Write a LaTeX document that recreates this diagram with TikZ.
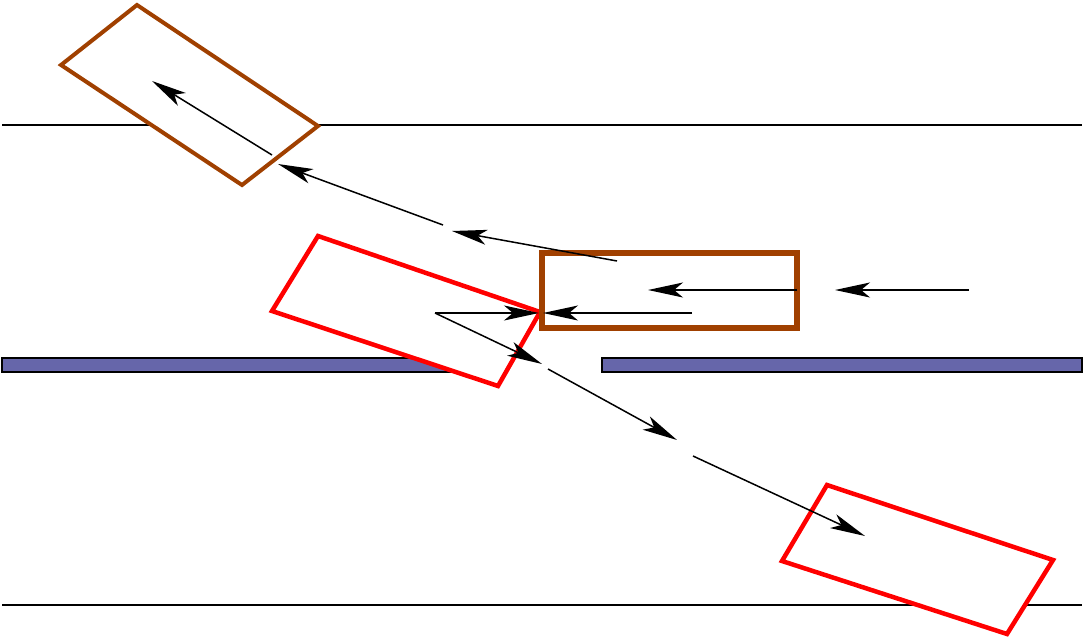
\documentclass[tikz,border=0pt]{standalone}
\usetikzlibrary{arrows.meta}
\definecolor{carbrown}{RGB}{160,64,0}
\definecolor{barrier}{RGB}{102,102,170}
\tikzset{
  road/.style={line width=1.5pt, black},
  barrierbox/.style={draw=black, line width=1.4pt, fill=barrier},
  redcar/.style={draw=red, line width=4.5pt, fill=white, line join=miter},
  browncar/.style={draw=carbrown, line width=4pt, fill=white, line join=miter},
  browncarthick/.style={draw=carbrown, line width=6pt},
  vec/.style={line width=1.5pt, -{Stealth[length=35pt,width=15pt,inset=9pt]}}
}
\begin{document}
\begin{tikzpicture}[x=1pt,y=-1pt]
\useasboundingbox (0,0) rectangle (1085,640);
% roads
\draw[road] (2,125) -- (1082,125);
\draw[road] (2,605) -- (1082,605);
% barriers
\draw[barrierbox] (2,358) rectangle (490,372);
\draw[barrierbox] (602,358) rectangle (1082,372);
% cars
\draw[redcar] (318,236) -- (540,312) -- (498,386) -- (272,311) -- cycle;
\draw[redcar] (827,485) -- (1053,560) -- (1007,634) -- (782,561) -- cycle;
\draw[browncar] (137,5) -- (318,126) -- (242,185) -- (61,65) -- cycle;
\draw[browncarthick] (542,253) rectangle (797,328);
% coordinates
\coordinate (a1s) at (272,155); \coordinate (a1e) at (152,81);
\coordinate (a2s) at (443,225); \coordinate (a2e) at (278,164);
\coordinate (a3s) at (617,261); \coordinate (a3e) at (452,231);
\coordinate (a4s) at (797,290); \coordinate (a4e) at (648,290);
\coordinate (a5s) at (969,290); \coordinate (a5e) at (835,290);
\coordinate (a6s) at (692,313); \coordinate (a6e) at (543,313);
\coordinate (a7s) at (435,313); \coordinate (a7e) at (539,313);
\coordinate (a8e) at (542,364);
\coordinate (a9s) at (548,369); \coordinate (a9e) at (677,440);
\coordinate (a10s) at (693,456); \coordinate (a10e) at (865,536);
% vectors
\draw[vec] (a1s) -- (a1e);
\draw[vec] (a2s) -- (a2e);
\draw[vec] (a3s) -- (a3e);
\draw[vec] (a4s) -- (a4e);
\draw[vec] (a5s) -- (a5e);
\draw[vec] (a6s) -- (a6e);
\draw[vec] (a7s) -- (a7e);
\draw[vec] (a7s) -- (a8e);
\draw[vec] (a9s) -- (a9e);
\draw[vec] (a10s) -- (a10e);
\end{tikzpicture}
\end{document}
